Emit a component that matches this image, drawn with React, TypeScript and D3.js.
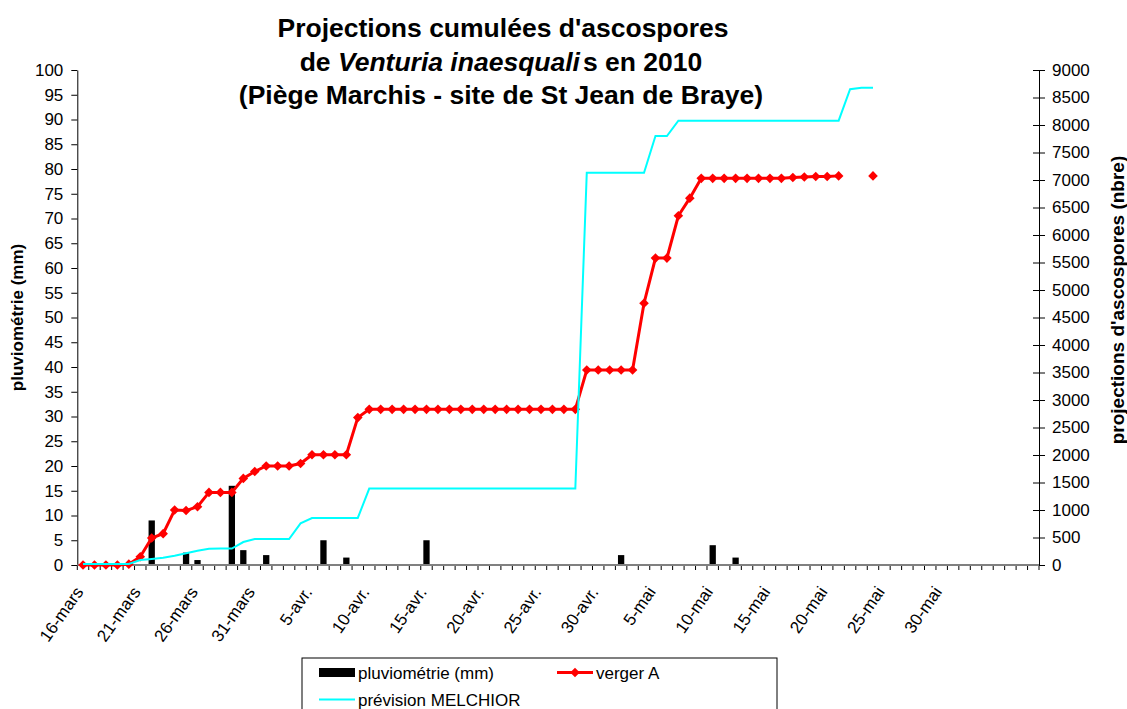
import { useEffect, useRef } from 'react';
import * as d3 from 'd3';

const FONT = '"Liberation Sans", Arial, sans-serif';
const MONTHS = ['janv.', 'févr.', 'mars', 'avr.', 'mai', 'juin'];

// 84 jours : du 16 mars au 7 juin 2010
const days = d3.timeDay.range(new Date(2010, 2, 16), new Date(2010, 5, 8));
const dayLabel = (d: Date) => `${d.getDate()}-${MONTHS[d.getMonth()]}`;
// étiquettes affichées : 16-mars ... 30-mai
const labelIdx = [0, 5, 10, 15, 20, 25, 30, 35, 40, 45, 50, 55, 60, 65, 70, 75];

// pluviométrie (mm), un chiffre par jour depuis le 16 mars
const rain = [
  0, 0, 0, 0, 0, 0, 9, 0, 0, 2.5, 1, 0, 0, 16, 3, 0, 2, 0, 0, 0, 0, 5, 0, 1.5, 0, 0, 0, 0, 0, 0,
  5, 0, 0, 0, 0, 0, 0, 0, 0, 0, 0, 0, 0, 0, 0, 0, 0, 2, 0, 0, 0, 0, 0, 0, 0, 4, 0, 1.5,
];

// verger A (nbre cumulé)
const vergerA: (number | null)[] = [
  0, 0, 0, 0, 15, 150, 490, 570, 1000, 990, 1060, 1320, 1320, 1320, 1575, 1700, 1800, 1800, 1800, 1845,
  2005, 2005, 2005, 2005, 2680, 2830, 2830, 2830, 2830, 2830, 2830, 2830, 2830, 2830, 2830, 2830, 2830, 2830, 2830, 2830,
  2830, 2830, 2830, 2830, 3545, 3545, 3545, 3545, 3545, 4760, 5580, 5580, 6350, 6670, 7030, 7030, 7030, 7030, 7030, 7030,
  7030, 7030, 7045, 7055, 7065, 7065, 7075, null, null, 7075,
];

// prévision MELCHIOR (nbre cumulé)
const melchior = [
  20, 20, 20, 20, 20, 90, 110, 133, 170, 212, 260, 297, 300, 300, 418, 473, 473, 473, 473, 757,
  855, 855, 855, 855, 855, 1390, 1390, 1390, 1390, 1390, 1390, 1390, 1390, 1390, 1390, 1390, 1390, 1390, 1390, 1390,
  1390, 1390, 1390, 1390, 7133, 7133, 7133, 7133, 7133, 7133, 7800, 7800, 8078, 8078, 8078, 8078, 8078, 8078, 8078, 8078,
  8078, 8078, 8078, 8078, 8078, 8078, 8078, 8650, 8678, 8678,
];

const leftTicks = d3.range(0, 101, 5);
const rightTicks = d3.range(0, 9001, 500);

export default function App() {
  const svgRef = useRef<SVGSVGElement>(null);

  useEffect(() => {
    if (!svgRef.current) return;
    const svg = d3.select(svgRef.current);
    svg.selectAll('*').remove();

    const left = 77.3;
    const right = 1039;
    const top = 70;
    const bottom = 565;

    const x = d3.scaleBand<number>().domain(d3.range(days.length)).range([left, right]);
    const bw = x.bandwidth();
    const cx = (i: number) => (x(i) ?? 0) + bw / 2;
    const yL = d3.scaleLinear().domain([0, 100]).range([bottom, top]);
    const yR = d3.scaleLinear().domain([0, 9000]).range([bottom, top]);

    svg.append('rect').attr('width', 1127).attr('height', 709).attr('fill', '#fff');

    // Titre
    const title = svg.append('text')
      .attr('text-anchor', 'middle')
      .attr('font-family', FONT)
      .attr('font-weight', 'bold')
      .attr('font-size', 26.5)
      .attr('fill', '#000');
    title.append('tspan').attr('x', 503).attr('y', 37).text("Projections cumulées d'ascospores");
    const l2 = title.append('tspan').attr('x', 501).attr('y', 70.5);
    l2.append('tspan').text('de ');
    l2.append('tspan').attr('font-style', 'italic').text('Venturia inaesquali');
    l2.append('tspan').attr('dx', 3).text('s en 2010');
    title.append('tspan').attr('x', 501).attr('y', 104).text('(Piège Marchis - site de St Jean de Braye)');

    // Barres de pluie
    const barW = bw * 0.55;
    svg.append('g')
      .selectAll('rect')
      .data(rain.map((v, i) => ({ v, i })).filter((d) => d.v > 0))
      .join('rect')
      .attr('x', (d) => cx(d.i) - barW / 2)
      .attr('y', (d) => yL(d.v))
      .attr('width', barW)
      .attr('height', (d) => bottom - yL(d.v))
      .attr('fill', '#000');

    // Axe gauche
    const gl = svg.append('g').attr('transform', `translate(${left},0)`)
      .call(d3.axisLeft(yL).tickValues(leftTicks).tickSize(6).tickSizeOuter(0).tickPadding(8));
    gl.selectAll('text').attr('font-family', FONT).attr('font-size', 17).attr('fill', '#000');
    gl.selectAll('line, path').attr('stroke', '#000');

    // Axe droit
    const gr = svg.append('g').attr('transform', `translate(${right},0)`)
      .call(d3.axisRight(yR).tickValues(rightTicks).tickFormat(d3.format('d')).tickSize(6).tickSizeOuter(0).tickPadding(7));
    gr.selectAll('.tick line').attr('x1', -6);
    gr.selectAll('text').attr('font-family', FONT).attr('font-size', 17).attr('fill', '#000');
    gr.selectAll('line, path').attr('stroke', '#000');

    // Axe des catégories
    const gx = svg.append('g');
    gx.selectAll('line.tk')
      .data(d3.range(days.length + 1))
      .join('line')
      .attr('class', 'tk')
      .attr('x1', (i) => (i < days.length ? x(i) ?? 0 : right))
      .attr('x2', (i) => (i < days.length ? x(i) ?? 0 : right))
      .attr('y1', bottom)
      .attr('y2', bottom + 5)
      .attr('stroke', '#000');
    gx.append('line')
      .attr('x1', left).attr('x2', right).attr('y1', bottom).attr('y2', bottom)
      .attr('stroke', '#808080').attr('stroke-width', 2);
    gx.selectAll('text')
      .data(labelIdx)
      .join('text')
      .attr('transform', (i) => `translate(${cx(i) + 1},${bottom + 27}) rotate(-55)`)
      .attr('text-anchor', 'end')
      .attr('font-family', FONT)
      .attr('font-size', 17)
      .attr('fill', '#000')
      .text((i) => dayLabel(days[i]));

    // Titres des axes
    svg.append('text')
      .attr('transform', `translate(17.5,${(top + bottom) / 2}) rotate(-90)`)
      .attr('text-anchor', 'middle').attr('dominant-baseline', 'central')
      .attr('font-family', FONT).attr('font-weight', 'bold').attr('font-size', 17)
      .text('pluviométrie (mm)');
    svg.append('text')
      .attr('transform', 'translate(1117,300) rotate(-90)')
      .attr('text-anchor', 'middle').attr('dominant-baseline', 'central')
      .attr('font-family', FONT).attr('font-weight', 'bold').attr('font-size', 19)
      .text("projections d'ascospores (nbre)");

    // verger A
    const line = d3.line<number | null>()
      .defined((d) => d != null)
      .x((_, i) => cx(i))
      .y((d) => yR(d as number));
    svg.append('path')
      .datum(vergerA)
      .attr('d', line)
      .attr('fill', 'none')
      .attr('stroke', '#ff0000')
      .attr('stroke-width', 3);
    const diamond = 'M0,-4.8L4.8,0L0,4.8L-4.8,0Z';
    svg.append('g')
      .selectAll('path')
      .data(vergerA.map((v, i) => ({ v, i })).filter((d) => d.v != null))
      .join('path')
      .attr('d', diamond)
      .attr('transform', (d) => `translate(${cx(d.i)},${yR(d.v as number)})`)
      .attr('fill', '#ff0000');

    // prévision MELCHIOR
    svg.append('path')
      .datum(melchior)
      .attr('d', d3.line<number>().x((_, i) => cx(i)).y((d) => yR(d)))
      .attr('fill', 'none')
      .attr('stroke', '#00ffff')
      .attr('stroke-width', 2);

    // Légende
    const lg = svg.append('g').attr('font-family', FONT).attr('font-size', 17);
    lg.append('rect').attr('x', 302).attr('y', 658).attr('width', 475).attr('height', 70)
      .attr('fill', '#fff').attr('stroke', '#000');
    lg.append('rect').attr('x', 319).attr('y', 668).attr('width', 36).attr('height', 9).attr('fill', '#000');
    lg.append('text').attr('x', 358).attr('y', 679).text('pluviométrie (mm)');
    lg.append('line').attr('x1', 557).attr('x2', 593).attr('y1', 672.5).attr('y2', 672.5)
      .attr('stroke', '#ff0000').attr('stroke-width', 3);
    lg.append('path').attr('d', diamond).attr('transform', 'translate(575,672.5)').attr('fill', '#ff0000');
    lg.append('text').attr('x', 596).attr('y', 679).text('verger A');
    lg.append('line').attr('x1', 319).attr('x2', 355).attr('y1', 699.5).attr('y2', 699.5)
      .attr('stroke', '#00ffff').attr('stroke-width', 2);
    lg.append('text').attr('x', 358).attr('y', 706).text('prévision MELCHIOR');
  }, []);

  return (
    <svg
      ref={svgRef}
      width={1127}
      height={709}
      style={{ position: 'absolute', left: 0, top: 0, display: 'block' }}
    />
  );
}
